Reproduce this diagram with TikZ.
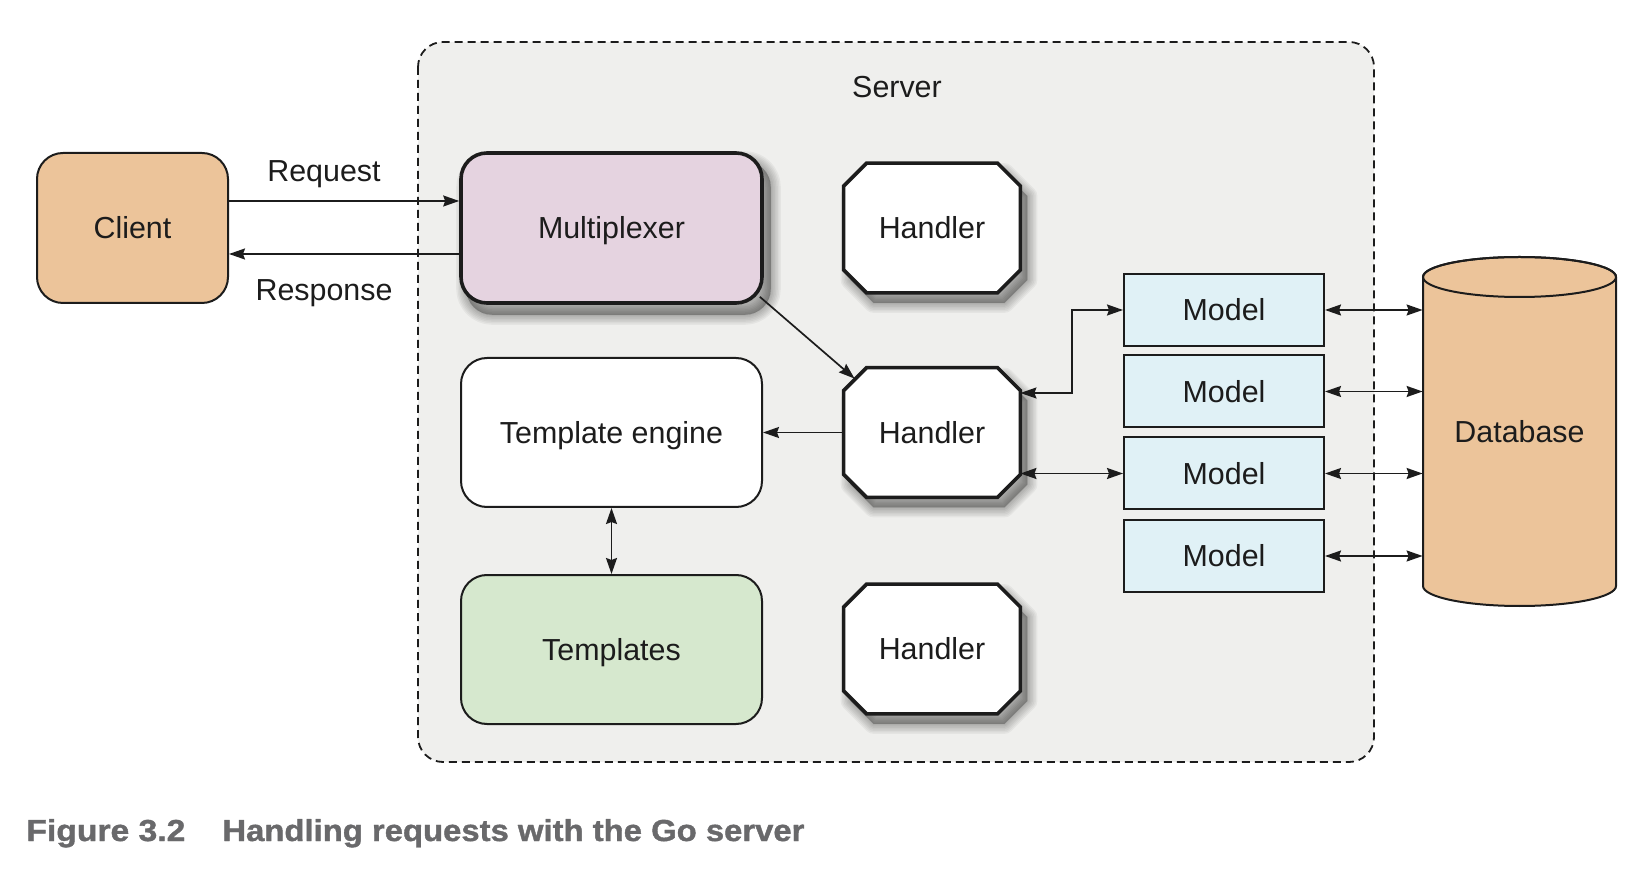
\documentclass[tikz,border=0pt]{standalone}
\usepackage{fontspec}
\setmainfont{Liberation Sans}
\newfontfamily\capfont[FakeBold=1.2]{Liberation Sans Bold}
\usetikzlibrary{arrows.meta,calc}
\pgfdeclarelayer{bg}
\pgfdeclarelayer{shd}
\pgfdeclarelayer{mid}
\pgfsetlayers{bg,shd,mid,main}
\definecolor{clientc}{RGB}{236,196,154}
\definecolor{muxc}{RGB}{229,211,224}
\definecolor{tplc}{RGB}{214,232,206}
\definecolor{modelc}{RGB}{224,241,246}
\definecolor{serverc}{RGB}{239,239,237}
\definecolor{ink}{RGB}{28,28,28}
\definecolor{capgray}{RGB}{105,105,107}
\tikzset{
  txt/.style={font=\fontsize{15.2}{18}\selectfont, text=ink, text height=10.9pt, text depth=0pt, inner sep=0pt},
  roundbox/.style={txt, draw=ink, line width=1pt, rounded corners=13pt, minimum width=150.5pt, minimum height=74.5pt},
  muxbox/.style={roundbox, line width=1.8pt, fill=muxc},
  handlerbox/.style={txt, minimum width=88pt, minimum height=64.5pt},
  handlerline/.style={draw=ink, fill=white, line width=1.8pt, line join=miter},
  shadowstep/.style={draw=black, fill=black, draw opacity=0.045, fill opacity=0.045, line join=round, transform canvas={shift={(3.5pt,-5pt)}}},
  modelbox/.style={txt, draw=ink, line width=1pt, fill=modelc, minimum width=100pt, minimum height=36pt},
  tip/.tip={Stealth[length=8pt,width=5.5pt,inset=1pt]},
  arr/.style={draw=ink, line width=0.85pt, -tip},
  darr/.style={draw=ink, line width=0.85pt, tip-tip},
  lbl/.style={txt},
  capt/.style={anchor=base west, inner sep=0pt, text=capgray, font=\capfont},
}
\newcommand{\octpath}[1]{($(#1.north west)+(11.5pt,0)$) -- ($(#1.north east)+(-11.5pt,0)$) -- ($(#1.north east)+(0,-11.5pt)$) -- ($(#1.south east)+(0,11.5pt)$) -- ($(#1.south east)+(-11.5pt,0)$) -- ($(#1.south west)+(11.5pt,0)$) -- ($(#1.south west)+(0,11.5pt)$) -- ($(#1.north west)+(0,-11.5pt)$) -- cycle}
\newcommand{\octagon}[1]{%
  \begin{pgfonlayer}{shd}
  \foreach \w in {10,8.5,7,5.5,4,2.5,1}{\path[shadowstep, line width=\w pt] \octpath{#1};}
  \end{pgfonlayer}
  \begin{pgfonlayer}{mid}
  \path[handlerline] \octpath{#1};
  \end{pgfonlayer}}
\newcommand{\rrshadow}[1]{%
  \begin{pgfonlayer}{shd}
  \foreach \w in {10,8.5,7,5.5,4,2.5,1}{\path[shadowstep, line width=\w pt, rounded corners=13pt] (#1.north west) rectangle (#1.south east);}
  \end{pgfonlayer}}
\begin{document}
\begin{tikzpicture}[x=0.5pt,y=-0.5pt]
\useasboundingbox (0,0) rectangle (1652,870);
% server frame
\begin{pgfonlayer}{bg}
\draw[draw=ink, line width=0.9pt, dash pattern=on 4pt off 2.5pt, fill=serverc, rounded corners=12.5pt] (418,42) rectangle (1374,762);
\end{pgfonlayer}
\node[lbl] (srvlbl) at (897,87) {Server};
% nodes
\node[roundbox, minimum width=95.5pt, minimum height=75pt, fill=clientc] (client) at (132.5,228) {Client};
\node[muxbox, minimum height=75pt] (mux) at (611.5,228) {Multiplexer};
\rrshadow{mux}
\node[roundbox, fill=white] (te) at (611.5,432.5) {Template engine};
\node[roundbox, fill=tplc] (tpl) at (611.5,649.5) {Templates};
\node[handlerbox] (h1) at (932,228) {Handler};
\node[handlerbox] (h2) at (932,432.5) {Handler};
\node[handlerbox] (h3) at (932,649) {Handler};
\octagon{h1}
\octagon{h2}
\octagon{h3}
\node[modelbox] (m1) at (1224,310) {Model};
\node[modelbox] (m2) at (1224,391.5) {Model};
\node[modelbox] (m3) at (1224,473.5) {Model};
\node[modelbox] (m4) at (1224,556) {Model};
% database
\node[txt, minimum width=96.5pt, minimum height=154.5pt] (db) at (1519.5,431.5) {Database};
\begin{pgfonlayer}{mid}
\path[draw=ink, line width=1pt, fill=clientc] (1423,277) -- (1423,586) arc[start angle=180, end angle=0, x radius=96.5, y radius=20] -- (1616,277) arc[start angle=0, end angle=-180, x radius=96.5, y radius=20] -- cycle;
\draw[draw=ink, line width=1pt] (1519.5,277) ellipse[x radius=96.5, y radius=20];
\end{pgfonlayer}
% connectors
\draw[arr] (client.east |- 0,201) -- (mux.west |- 0,201);
\draw[arr] (mux.west |- 0,254) -- (client.east |- 0,254);
\node[lbl] (reqlbl) at (324,171) {Request};
\node[lbl] (reslbl) at (324,290) {Response};
\draw[arr] ($(mux.south east)+(-2pt,4pt)$) -- ($(h2.north west)+(5.5pt,-5.5pt)$);
\draw[arr] (h2.west) -- (te.east);
\draw[darr] (te.south) -- (tpl.north);
\draw[darr] (h2.east |- 0,393) -- (1072,393) |- (m1.west);
\draw[darr] (h2.east |- m3.west) -- (m3.west);
\draw[darr] (m1.east) -- (db.west |- m1.east);
\draw[darr] (m2.east) -- (db.west |- m2.east);
\draw[darr] (m3.east) -- (db.west |- m3.east);
\draw[darr] (m4.east) -- (db.west |- m4.east);
% caption
\node[capt] (fig) at (26,841) {\resizebox{79.5pt}{11pt}{Figure 3.2}};
\node[capt] (cap) at (222,841) {\resizebox{291pt}{11pt}{Handling requests with the Go server}};
\end{tikzpicture}
\end{document}
